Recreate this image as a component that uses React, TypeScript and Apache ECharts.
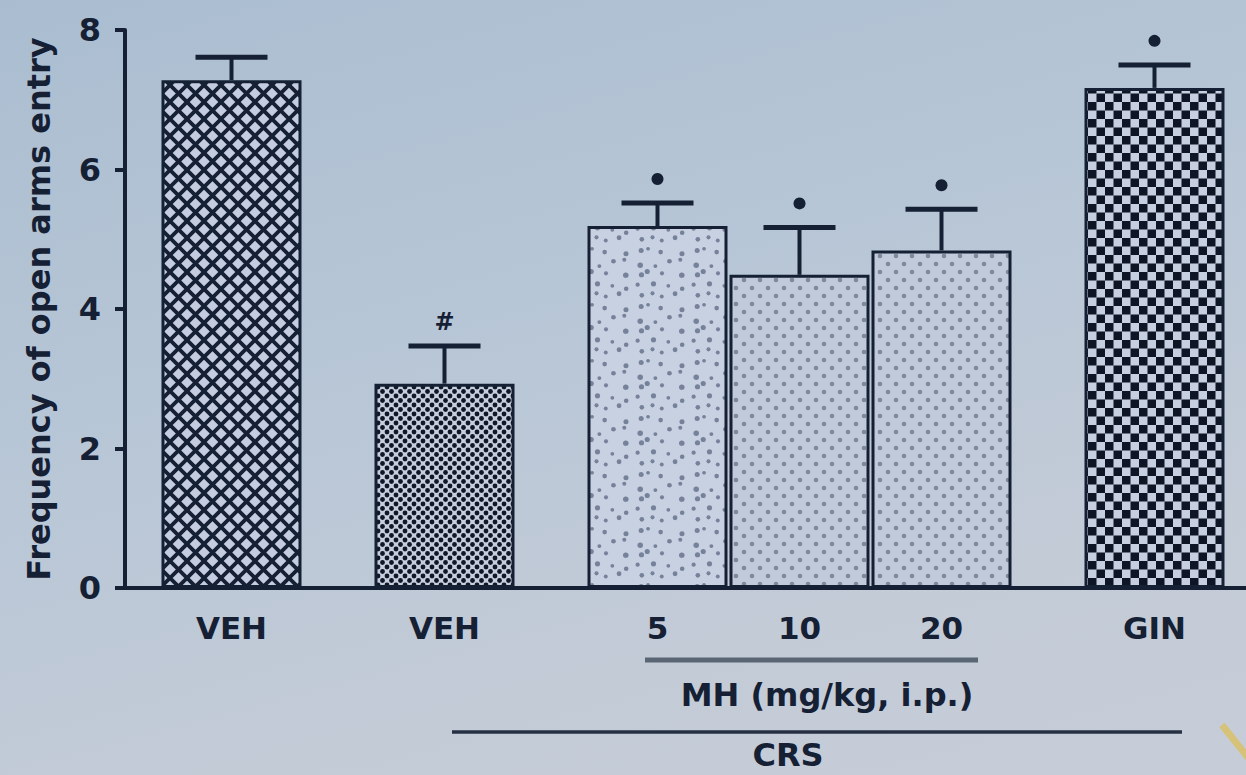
import React, { useEffect, useRef } from 'react';
import * as echarts from 'echarts';

// ---- data ----
const groups = ['VEH', 'VEH', '5', '10', '20', 'GIN'];
const means = [7.28, 2.93, 5.19, 4.49, 4.84, 7.17];
const sems = [0.33, 0.54, 0.33, 0.68, 0.59, 0.33];
const marks = ['', '#', '•', '•', '•', '•'];
const slots = [1, 4, 7, 9, 11, 14];
const SLOT_COUNT = 16;
const yTicks = [0, 2, 4, 6, 8];
const yTitle = 'Frequency of open arms entry';
const doseTitle = 'MH (mg/kg, i.p.)';
const groupTitle = 'CRS';

const DARK = '#152034';
const FONT = '"DejaVu Sans", Verdana, sans-serif';

function tile(w: number, h: number, draw: (ctx: CanvasRenderingContext2D) => void) {
  const c = document.createElement('canvas');
  c.width = w;
  c.height = h;
  const ctx = c.getContext('2d')!;
  draw(ctx);
  return { image: c, repeat: 'repeat', imageWidth: w, imageHeight: h } as any;
}

function hash(n: number) {
  const s = Math.sin(n * 127.1 + 311.7) * 43758.5453;
  return s - Math.floor(s);
}

function makePatterns() {
  const cross = tile(17, 17, (ctx) => {
    ctx.fillStyle = '#c4cde0';
    ctx.fillRect(0, 0, 17, 17);
    ctx.strokeStyle = DARK;
    ctx.lineWidth = 3.8;
    ctx.beginPath();
    for (const dx of [-17, 0, 17]) {
      ctx.moveTo(dx, 0);
      ctx.lineTo(dx + 17, 17);
      ctx.moveTo(dx + 17, 0);
      ctx.lineTo(dx, 17);
    }
    ctx.stroke();
  });
  const fine = tile(9, 9, (ctx) => {
    ctx.fillStyle = '#c6cede';
    ctx.fillRect(0, 0, 9, 9);
    ctx.fillStyle = '#101828';
    for (const [x, y] of [[0, 0], [9, 0], [0, 9], [9, 9], [4.5, 4.5]]) {
      ctx.beginPath();
      ctx.arc(x, y, 2.4, 0, Math.PI * 2);
      ctx.fill();
    }
  });
  const stipple = tile(56, 56, (ctx) => {
    ctx.fillStyle = '#c8d1e1';
    ctx.fillRect(0, 0, 56, 56);
    ctx.fillStyle = '#76819a';
    for (let i = 0; i < 4; i++) {
      for (let j = 0; j < 5; j++) {
        const n = i * 5 + j;
        const x = i * 14 + 2 + hash(n) * 10;
        const y = j * 11.2 + 1.5 + hash(n + 100) * 8;
        const r = 1.8 + hash(n + 200) * 1.0;
        ctx.beginPath();
        ctx.arc(x, y, r, 0, Math.PI * 2);
        ctx.fill();
      }
    }
  });
  const dots = tile(16, 16, (ctx) => {
    ctx.fillStyle = '#c0cadb';
    ctx.fillRect(0, 0, 16, 16);
    ctx.fillStyle = '#7e899c';
    for (const [x, y] of [[0, 0], [16, 0], [0, 16], [16, 16], [8, 8]]) {
      ctx.beginPath();
      ctx.arc(x, y, 2.3, 0, Math.PI * 2);
      ctx.fill();
    }
  });
  const checker = tile(17, 17, (ctx) => {
    ctx.fillStyle = '#c6cfdf';
    ctx.fillRect(0, 0, 17, 17);
    ctx.fillStyle = '#0e1626';
    ctx.fillRect(0, 0, 8.5, 8.5);
    ctx.fillRect(8.5, 8.5, 8.5, 8.5);
  });
  return [cross, fine, stipple, dots, dots, checker];
}

export default function App() {
  const ref = useRef<HTMLDivElement>(null);

  useEffect(() => {
    document.body.style.margin = '0';
    const chart = echarts.init(ref.current!, null, { renderer: 'svg' });
    const patterns = makePatterns();
    const categories = Array.from({ length: SLOT_COUNT }, (_, i) => String(i));
    const labelOf = (i: number) => {
      const k = slots.indexOf(i);
      return k >= 0 ? groups[k] : '';
    };
    const barData = categories.map((_, i) => {
      const k = slots.indexOf(i);
      if (k < 0) return '-';
      return { value: means[k], itemStyle: { color: patterns[k] } };
    });
    const errData = groups.map((_, k) => [slots[k], means[k], sems[k], k]);

    chart.setOption({
      animation: false,
      backgroundColor: 'transparent',
      grid: {
        left: 125,
        width: 1136,
        top: 30,
        bottom: 187,
        containLabel: false,
        outerBoundsMode: 'none',
      },
      xAxis: {
        type: 'category',
        data: categories,
        boundaryGap: true,
        axisLine: { lineStyle: { color: DARK, width: 4 } },
        axisTick: {
          alignWithLabel: true,
          length: 14,
          lineStyle: { color: DARK, width: 3 },
          interval: (i: number) => slots.indexOf(i) >= 0,
        },
        axisLabel: {
          interval: (i: number) => slots.indexOf(i) >= 0,
          formatter: (_v: string, i: number) => labelOf(i),
          color: DARK,
          fontFamily: FONT,
          fontWeight: 'bold',
          fontSize: 31,
          margin: 24,
        },
        splitLine: { show: false },
      },
      yAxis: {
        type: 'value',
        min: yTicks[0],
        max: yTicks[yTicks.length - 1],
        interval: yTicks[1] - yTicks[0],
        name: yTitle,
        nameLocation: 'middle',
        nameRotate: 90,
        nameGap: 70,
        nameTextStyle: { color: DARK, fontFamily: FONT, fontWeight: 'bold', fontSize: 32 },
        axisLine: { show: true, lineStyle: { color: DARK, width: 4 } },
        axisTick: { show: true, length: 10, lineStyle: { color: DARK, width: 4 } },
        axisLabel: { color: DARK, fontFamily: FONT, fontWeight: 'bold', fontSize: 32, margin: 24 },
        splitLine: { show: false },
      },
      series: [
        {
          type: 'bar',
          data: barData,
          barWidth: 140,
          itemStyle: { borderColor: DARK, borderWidth: 3 },
          z: 2,
        },
        {
          type: 'custom',
          data: errData,
          encode: { x: 0, y: 1 },
          z: 3,
          renderItem: (params: any, api: any) => {
            const x = api.value(0);
            const v = api.value(1);
            const e = api.value(2);
            const k = api.value(3);
            const p0 = api.coord([x, v]);
            const p1 = api.coord([x, v + e]);
            const half = 36;
            const children: any[] = [
              { type: 'line', shape: { x1: p0[0], y1: p0[1], x2: p1[0], y2: p1[1] }, style: { stroke: DARK, lineWidth: 4 } },
              { type: 'line', shape: { x1: p1[0] - half, y1: p1[1], x2: p1[0] + half, y2: p1[1] }, style: { stroke: DARK, lineWidth: 5 } },
            ];
            const m = marks[k];
            if (m === '•') {
              children.push({ type: 'circle', shape: { cx: p1[0], cy: p1[1] - 24, r: 6 }, style: { fill: DARK } });
            } else if (m) {
              children.push({
                type: 'text',
                x: p1[0],
                y: p1[1] - 24,
                style: { text: m, fill: DARK, font: `bold 24px ${FONT}`, align: 'center', verticalAlign: 'middle' },
              });
            }
            return { type: 'group', children };
          },
        },
      ],
      graphic: [
        { type: 'line', shape: { x1: 645, y1: 660, x2: 978, y2: 660 }, style: { stroke: '#5b6674', lineWidth: 5 } },
        {
          type: 'text',
          x: 827,
          y: 695,
          style: { text: doseTitle, fill: DARK, font: `bold 32px ${FONT}`, align: 'center', verticalAlign: 'middle' },
        },
        { type: 'line', shape: { x1: 452, y1: 732, x2: 1182, y2: 732 }, style: { stroke: '#253043', lineWidth: 3.5 } },
        {
          type: 'text',
          x: 788,
          y: 755,
          style: { text: groupTitle, fill: DARK, font: `bold 32px ${FONT}`, align: 'center', verticalAlign: 'middle' },
        },
        { type: 'line', shape: { x1: 1222, y1: 725, x2: 1250, y2: 760 }, style: { stroke: '#d9c06a', lineWidth: 7, opacity: 0.85 } },
      ],
    });
    return () => chart.dispose();
  }, []);

  return (
    <div
      ref={ref}
      style={{
        position: 'absolute',
        left: 0,
        top: 0,
        width: 1246,
        height: 775,
        background: 'linear-gradient(165deg, #aabdd0 0%, #b7c6d6 40%, #c3cbd7 75%, #c6cdd8 100%)',
      }}
    />
  );
}
